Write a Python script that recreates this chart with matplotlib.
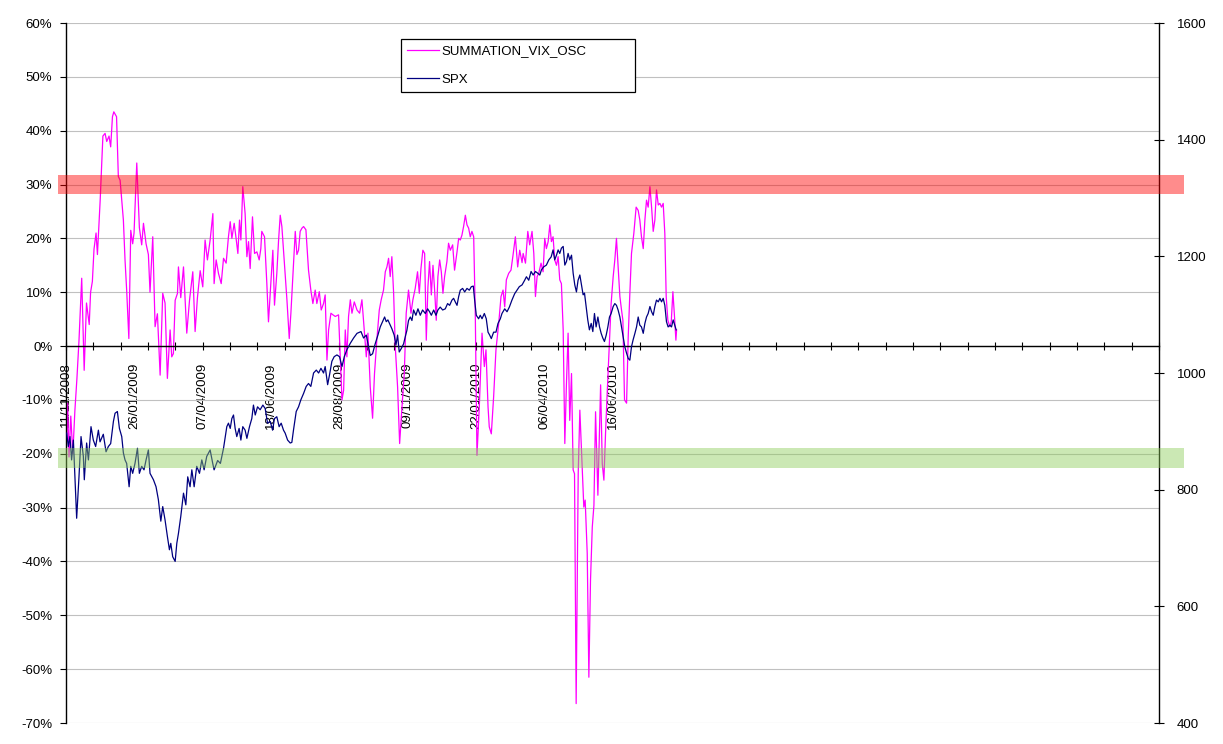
#!/usr/bin/env python3
"""
Summation VIX oscillator vs SPX, Excel-style chart with two y axes.
Left axis: oscillator in %, right axis: SPX level.
"""

import matplotlib.pyplot as plt
from matplotlib.patches import Rectangle
from matplotlib.lines import Line2D
import matplotlib.transforms as mtransforms

plt.rcParams['font.family'] = ['Liberation Sans', 'DejaVu Sans']

# category index (trading day since 11/11/2008) and oscillator value in %
vix_idx = [0, 1.2, 2.2, 3.5, 5, 6.5, 8, 9.5, 11.5, 13.3, 15, 17, 18, 19.3, 20.5, 22, 23, 25,
           27, 28.6, 29.8, 31.5, 32.7, 34, 35, 37, 38.3, 39.6, 40.8, 42, 43.2, 44.4, 46,
           47.4, 48.8, 49.8, 51.8, 53.7, 55.4, 56.7, 58.6, 60.3, 61.5, 63.5, 65.2, 66.9,
           68.9, 70.8, 72.5, 74.2, 76.2, 77.4, 78.6, 79.9, 81.6, 82.3, 84, 86, 88.4, 90.4,
           92.8, 94.5, 96.2, 98.2, 100.1, 101.8, 103.5, 105.5, 107.5, 108.4, 109.9, 111.6,
           113.6, 115.3, 117.2, 118.9, 120.2, 121.4, 123.1, 124.5, 125.8, 127, 128, 129.4,
           131.1, 132.4, 133.6, 134.8, 136.5, 138, 139.7, 141.4, 142.6, 143.3, 145.3, 147,
           148.2, 149.9, 151.4, 152.6, 154.3, 155.6, 156.8, 158, 159.7, 161.7, 163.4, 164.6,
           166, 167.8, 169, 170.2, 171.4, 172.7, 173.9, 175.6, 177.5, 179.2, 180.7, 182.4,
           183.6, 185.4, 186.8, 188.5, 189.7, 191, 192.2, 193.9, 195.4, 197.1, 199.5, 200.7,
           202, 203.2, 204.4, 205.6, 206.8, 208.1, 209.3, 211, 213, 214.9, 216.6, 218.3,
           219.8, 221, 222.7, 224.4, 225.8, 227.5, 229.3, 230.7, 232.4, 233.7, 234.9, 236.1,
           237.3, 238.5, 239.8, 241, 242.7, 244.2, 245.9, 247.6, 249, 250.7, 252.5, 253.9,
           255.6, 257.3, 258.6, 259.8, 261.2, 262.5, 263.7, 264.9, 266.1, 267.4, 268.6,
           269.8, 271, 272.2, 273.5, 274.7, 275.9, 277.1, 278.8, 280, 281.3, 283, 284.4,
           286.2, 287.4, 288.6, 289.8, 291, 292.3, 293.5, 294.7, 295.9, 297.1, 298.4, 299.6,
           300.8, 302.5, 304.5, 306.2, 307.4, 308.9, 309.8, 311.3, 313, 314.7, 316.7, 318.4,
           319.9, 321.1, 322.3, 324, 325.7, 327.2, 328.9, 330.6, 332.1, 333.8, 334.6, 336.3,
           338, 339.4, 341.1, 342.4, 343.6, 344.8, 346, 347.7, 349.2, 350.4, 351.6, 352.9,
           354.1, 355.3, 356.5, 357.7, 359, 360.2, 361.4, 362.6, 363.9, 365.1, 366.3, 367.5,
           368.7, 370, 371.2, 372.2, 373.4, 374.9, 376.1, 377.8, 379, 380, 381.5, 382.7,
           383.9, 385.2, 386.4, 387.6, 389.3, 391.3, 392.5, 393.7, 394.9, 396.1, 397.4, 399,
           400.5, 401.7, 402.9, 404.1, 405.4, 406.6, 407.6, 408.8, 410.3, 411.5, 412.7,
           413.9, 415.6, 417.3, 418.8, 420, 421.2, 422.5, 423.7, 424.9, 426.1, 427.4, 428.6,
           429.8, 431, 432.2, 433.5, 434.7, 435.9, 437.1, 438.3, 439.3, 440.5, 442, 443,
           444.2, 445.4, 446.4, 446.9]
vix_pct = [-21.5, -10.6, -20.6, -13, -20, -12, -6, 1, 12.6, -4.5, 8, 4, 10, 12, 18, 21, 17, 27,
           39, 39.5, 38, 39, 37, 42.6, 43.5, 42.6, 31.5, 30.8, 27, 23.4, 16, 10.4, 1.4,
           21.5, 19, 21, 34, 22, 18.8, 22.8, 19, 17, 10, 20.3, 3.6, 6,
           -5.4, 9.8, 8, -6, 3, -2, -1.4, 8.5, 9.8, 14.7, 9, 14.7, 2.4, 8.5,
           13.8, 2.7, 9, 14, 11, 19.7, 16, 19.7, 24.6, 11.6, 16, 13.5,
           11.6, 16.3, 15.4, 20.3, 23.1, 20, 22.8, 20, 17.2, 23.4, 19.7, 29.6,
           24.6, 16.6, 19.4, 14.4, 24, 17.2, 17.5, 16, 18.1, 21.3, 20.3, 11.6,
           4.5, 11.6, 17.8, 7.6, 13.5, 19.7, 24.3, 22.2, 16, 8.6, 1.4, 6.1,
           12.9, 21.3, 17, 17.8, 21.3, 21.9, 22.2, 21.6, 14.1, 10.4, 7.9, 10.4,
           7.9, 10.1, 6.7, 7.9, 9.5, -2.6, 3, 6.1, 5.8, 5.5, 5.8, -2,
           -10, -8.2, 3, -2, 5.5, 8.6, 6.1, 8.2, 6.7, 6.1, 8.6, 3,
           -2, 2.4, -7.6, -13.4, -5.1, 1.1, 6.7, 8.6, 10.4, 13.8, 14.7, 16.3,
           12.9, 16.6, 9.8, -0.1, -7.6, -18.1, -11.3, -5.1, 6.1, 10.4, 6.1, 8.6,
           10.7, 13.8, 9.8, 14.4, 17.8, 17.2, 1.1, 11, 15.7, 9.5, 15,
           10.4, 4.8, 12.9, 16, 13.8, 9.8, 12.9, 15.7, 19.1, 17.8, 18.8, 14.1,
           17.5, 20, 19.7, 20.6, 22.2, 24.3, 22.5, 21.9, 20.3, 21.3, 20.3, 5.4,
           -20.3, -11.3, 2.4, -3.8, -0.7, -11.3, -15, -16.3, -9.4, -0.7, 4.2, 9.2,
           10.4, 7.3, 12.3, 13.5, 14.1, 16.9, 20.3, 14.7, 17.8, 15.5, 17.2, 15.4,
           21.3, 18.8, 21.3, 17.2, 9.2, 12.9, 13.5, 15.4, 13.8, 20, 18.1, 19.4,
           22.5, 19.4, 20.3, 16, 15, 16.6, 12.3, 11.6, 3, -18.1, -6.9, 2.4,
           -13.8, -5.1, -23, -23.7, -66.4, -23.7, -11.9, -22.4, -29.9, -28.6, -38.5, -61.5,
           -43.5, -33.6, -29.6, -12.2, -27.7, -7.2, -21.8, -24.9, -16.2, -8.8, -1.5, 7.9,
           12.9, 16, 20, 14.7, 9.2, 6.7, 4.8, -10, -10.6, 1.7, 9.8,
           17.2, 20.9, 25.8, 25.2, 23.4, 20.3, 18.1, 23.4, 27.1, 25.8, 29.6, 25.8,
           21.3, 23.4, 29, 26.2, 26.5, 25.8, 26.5, 20.9, 9.2, 4.8, 3.6, 4.5,
           10.1, 5.4, 1.1, 3]

# category index and SPX close
spx_idx = [0.5, 1.7, 2.9, 4.1, 5.4, 6.6, 7.8, 9.5, 11, 12.7, 13.4, 15.1, 16.4, 18.3, 20, 21.7,
           23.7, 24.9, 27.3, 29.3, 31, 32.7, 34.7, 35.9, 37.6, 39.1, 40.8, 42, 43.2, 44.4,
           46.2, 47.4, 48.8, 50.5, 52.3, 53.7, 55.4, 57.1, 58.6, 60.3, 61.5, 64, 65.9, 67.6,
           69.4, 70.8, 72.5, 74.2, 75.7, 76.7, 78.1, 79.9, 81.1, 82.3, 84, 86, 87.7, 89.1,
           90.8, 92.1, 93.8, 95.7, 97.7, 99.4, 101.1, 103, 105.5, 107.4, 108.4, 111, 113,
           115.3, 117.7, 118.9, 120.2, 121.4, 122.6, 123.8, 125, 126.7, 128, 129.4, 131.1,
           132.4, 134.3, 136, 137.2, 138.5, 140.2, 142.1, 144.1, 145.8, 147.5, 149.5, 151.2,
           152.6, 154.3, 156, 157.5, 159.2, 160.4, 162.2, 164.1, 165.3, 166.5, 168.5, 170.2,
           171.9, 173.9, 175.8, 177.5, 179.2, 181.2, 183.2, 184.9, 186.6, 188.5, 189.7,
           191.5, 192.9, 194.6, 196.3, 198.3, 200.2, 202, 203.7, 205.6, 208.1, 210.5, 213,
           215.9, 217.8, 219.8, 221, 222.7, 224.4, 226.3, 228.3, 230, 231.7, 233.2, 234.4,
           235.6, 237.3, 238.5, 240.2, 241.5, 242.7, 243.9, 245.4, 247.1, 248.3, 249.5,
           250.7, 252, 253.2, 254.4, 256.1, 257.6, 259.3, 261, 263, 264.7, 266.1, 267.4,
           269.1, 270.8, 272.2, 273.9, 275.7, 277.6, 279.3, 280.8, 282.5, 283.7, 284.9,
           286.2, 287.4, 288.6, 290.3, 291.8, 293.5, 295.2, 296.7, 298.1, 299.1, 300.3, 302,
           303.2, 304.5, 306.2, 307.6, 308.9, 310.1, 311.3, 313, 314.7, 316.2, 317.9, 319.1,
           321.1, 322.8, 324.5, 326.4, 328.4, 330.1, 331.8, 333.8, 335.7, 337, 338.7, 340.4,
           341.9, 343.6, 345.3, 346.8, 348, 349.7, 351.6, 353.4, 355.1, 356.5, 357.7, 359,
           360.2, 361.4, 362.6, 363.9, 365.1, 366.3, 367.5, 368.7, 370, 371.2, 372.4, 373.6,
           374.8, 376.1, 377.3, 378.5, 379.5, 380.7, 381.9, 383.1, 384.4, 385.6, 386.8, 388,
           389.3, 390.5, 391.7, 392.9, 394.1, 395.4, 396.6, 397.8, 399, 400.5, 401.7, 402.9,
           404.1, 405.4, 406.6, 407.8, 409, 410.3, 411.5, 412.7, 413.9, 415.1, 416.4, 417.6,
           418.8, 420, 421.2, 422.5, 423.7, 424.9, 426.1, 427.4, 428.6, 429.8, 431, 432.2,
           433.5, 434.7, 435.9, 437.1, 438.3, 439.5, 440.7, 442, 443.2, 444.4, 445.6, 446.6]
spx_val = [897, 874, 891, 851, 885, 817, 751, 822, 891, 857, 817, 880, 851, 908, 885, 874,
           902, 882, 895, 865, 874, 879, 917, 931, 934, 905, 891, 863, 851, 845,
           805, 840, 828, 845, 871, 828, 840, 834, 851, 868, 828, 817, 805, 783,
           746, 771, 748, 720, 697, 708, 685, 677, 708, 725, 754, 794, 774, 822,
           805, 834, 805, 840, 828, 851, 834, 857, 868, 845, 834, 850, 845,
           871, 908, 914, 905, 922, 928, 905, 891, 905, 885, 908, 902,
           888, 908, 922, 945, 928, 942, 937, 945, 939, 914, 917, 902,
           922, 925, 908, 914, 902, 897, 885, 880, 881, 902, 934, 942,
           954, 965, 977, 982, 977, 1000, 1005, 1000, 1008, 1000, 1011,
           980, 997, 1020, 1028, 1031, 1028, 1011, 1028, 1040, 1051, 1060, 1068,
           1071, 1060, 1065, 1050, 1030, 1033, 1050, 1065, 1079, 1088, 1096, 1088,
           1091, 1082, 1076, 1065, 1048, 1065, 1036, 1042, 1050, 1062, 1073,
           1090, 1096, 1090, 1108, 1099, 1110, 1099, 1108, 1102, 1110, 1105, 1099,
           1108, 1099, 1108, 1113, 1108, 1110, 1119, 1116, 1125, 1128, 1122,
           1116, 1131, 1142, 1145, 1139, 1145, 1142, 1148, 1149, 1125, 1099, 1093,
           1099, 1093, 1102, 1093, 1070, 1065, 1059, 1070, 1070, 1085, 1093, 1102,
           1110, 1105, 1113, 1125, 1136, 1142, 1148, 1151, 1159, 1165, 1159, 1174,
           1168, 1174, 1171, 1168, 1177, 1182, 1185, 1194, 1199, 1211, 1194, 1202,
           1211, 1205, 1214, 1217, 1185, 1191, 1205, 1194, 1202, 1171, 1151, 1139,
           1159, 1168, 1151, 1134, 1137, 1114, 1091, 1074, 1085, 1071, 1102, 1079,
           1096, 1079, 1068, 1060, 1054, 1065, 1079, 1096, 1102, 1114, 1119, 1116,
           1108, 1096, 1079, 1062, 1045, 1034, 1025, 1022, 1045, 1057, 1068, 1079,
           1096, 1082, 1079, 1068, 1085, 1096, 1102, 1114, 1105, 1099, 1114, 1125,
           1122, 1128, 1122, 1128, 1116, 1088, 1079, 1082, 1079, 1091, 1082, 1074]

date_labels = ['11/11/2008', '26/01/2009', '07/04/2009', '18/06/2009', '28/08/2009',
               '09/11/2009', '22/01/2010', '06/04/2010', '16/06/2010']
label_every = 50
tick_every = 20
n_categories = 800

pct_ticks = list(range(-70, 61, 10))
spx_ticks = list(range(400, 1601, 200))

# shaded zones on the oscillator axis (%)
upper_zone = (28.2, 31.8)
lower_zone = (-22.6, -19.0)

FS = 9.5
W, H = 1223, 744


def draw_zone(ax_top, ax_ref, lo, hi, color, alpha):
    """Semi-transparent band drawn above both series, a bit wider than the plot."""
    trans = mtransforms.blended_transform_factory(ax_top.transAxes, ax_ref.transData)
    x0 = -8 / 1093
    rect = Rectangle((x0, lo), 1.0229 - x0, hi - lo, transform=trans,
                     facecolor=color, alpha=alpha, edgecolor='none',
                     clip_on=False, zorder=10)
    ax_top.add_artist(rect)


def main():
    fig = plt.figure(figsize=(W / 100, H / 100), dpi=100)
    fig.patch.set_facecolor('white')
    ax = fig.add_axes([66 / W, 1 - 723 / H, (1159 - 66) / W, 700 / H])
    ax2 = ax.twinx()
    ax2.patch.set_visible(False)

    # oscillator on the left axis
    ax.plot(vix_idx, vix_pct, color='#FF00FF', linewidth=0.9)
    ax.set_xlim(0, n_categories)
    ax.set_ylim(-70, 60)
    ax.set_yticks(pct_ticks)
    ax.set_yticklabels([f'{v}%' for v in pct_ticks], fontsize=FS)
    ax.yaxis.grid(True, color='#C0C0C0', linewidth=0.8)
    ax.set_axisbelow(True)
    ax.tick_params(axis='y', direction='out', length=4.3, width=0.8, pad=5.5)

    for side in ['top', 'right']:
        ax.spines[side].set_visible(False)
    ax.spines['bottom'].set_position(('data', 0))
    ax.spines['bottom'].set_linewidth(1.0)
    ax.spines['left'].set_linewidth(1.0)

    # category axis: tick marks every 20, date labels every 50
    ax.xaxis.remove_overlapping_locs = False
    ax.set_xticks(range(0, n_categories + 1, tick_every))
    ax.set_xticklabels([])
    ax.set_xticks([i * label_every for i in range(len(date_labels))], minor=True)
    ax.set_xticklabels(date_labels, minor=True, rotation=90, fontsize=FS)
    ax.tick_params(axis='x', which='major', direction='inout', length=6, width=0.8)
    ax.tick_params(axis='x', which='minor', length=0, pad=12)

    # SPX on the right axis
    ax2.plot(spx_idx, spx_val, color='#000080', linewidth=0.9)
    ax2.set_ylim(400, 1600)
    ax2.set_yticks(spx_ticks)
    ax2.set_yticklabels([str(v) for v in spx_ticks], fontsize=FS)
    ax2.tick_params(axis='y', direction='inout', length=6.5, width=0.8, pad=9.5)
    for side in ['top', 'left', 'bottom']:
        ax2.spines[side].set_visible(False)
    ax2.spines['right'].set_linewidth(1.0)
    ax2.set_xlim(0, n_categories)

    draw_zone(ax2, ax, *upper_zone, color='#FF0000', alpha=0.45)
    draw_zone(ax2, ax, *lower_zone, color=(0.55, 0.80, 0.35), alpha=0.45)

    handles = [Line2D([], [], color='#FF00FF', linewidth=0.9),
               Line2D([], [], color='#000080', linewidth=0.9)]
    leg = ax2.legend(handles, ['SUMMATION_VIX_OSC', 'SPX'], loc='upper left',
                     bbox_to_anchor=(401 / W, 1 - 93 / H, 234 / W, 54 / H),
                     bbox_transform=fig.transFigure, mode='expand',
                     fontsize=FS, frameon=True, fancybox=False, framealpha=1,
                     edgecolor='black', borderpad=0.45, labelspacing=1.25,
                     handlelength=2.4, handletextpad=0.25, borderaxespad=0)
    leg.get_frame().set_linewidth(0.9)
    leg.set_zorder(20)

    fig.savefig('out.png', dpi=100)


if __name__ == '__main__':
    main()
